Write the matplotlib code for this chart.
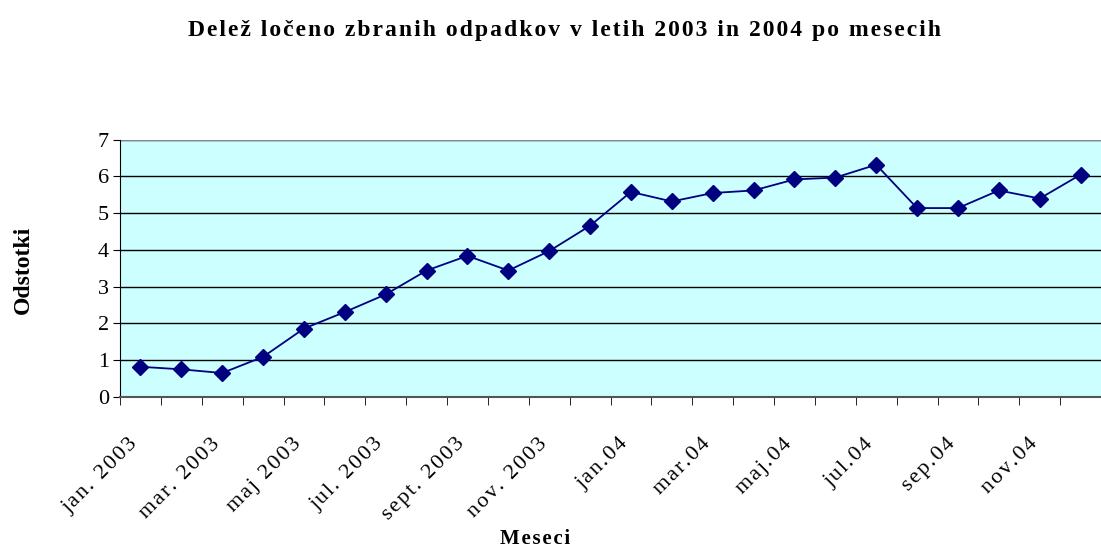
import numpy as np
import matplotlib
matplotlib.use("Agg")
import matplotlib.pyplot as plt
from matplotlib.transforms import ScaledTranslation

# monthly share of separately collected waste, jan 2003 - dec 2004
months = ["jan. 2003", "feb. 2003", "mar. 2003", "apr. 2003", "maj 2003", "jun. 2003",
          "jul. 2003", "avg. 2003", "sept. 2003", "okt. 2003", "nov. 2003", "dec. 2003",
          "jan.04", "feb.04", "mar.04", "apr.04", "maj.04", "jun.04",
          "jul.04", "avg.04", "sep.04", "okt.04", "nov.04", "dec.04"]
share = [0.82, 0.75, 0.65, 1.09, 1.86, 2.31, 2.79, 3.44, 3.84, 3.44, 3.97, 4.66,
         5.58, 5.32, 5.55, 5.62, 5.92, 5.97, 6.32, 5.14, 5.14, 5.62, 5.40, 6.05]
yticks = [0, 1, 2, 3, 4, 5, 6, 7]

plt.rcParams['font.family'] = ['Liberation Serif', 'DejaVu Serif']


def spaced(s, sep='\u200a'):
    # old Excel charts draw text with wide letter spacing
    return sep.join(s)


fig = plt.figure(figsize=(11.01, 5.59), dpi=100)
ax = fig.add_axes([0.109, 0.29, 0.891, 0.46])
ax.set_facecolor('#CCFFFF')

x = np.arange(len(months))
ax.plot(x, share, '-', color='#000080', lw=1.3, marker='D', ms=8,
        markerfacecolor='#000080', markeredgecolor='#000080', zorder=3)

ax.set_xlim(-0.5, len(months) - 0.5)
ax.set_ylim(0, 7)
ax.set_yticks(yticks)
ax.yaxis.grid(True, color='black', lw=1)
ax.set_axisbelow(True)

# category labels every second month, tick marks at category boundaries
ax.set_xticks(x[::2])
ax.set_xticklabels([spaced(m) for m in months[::2]], rotation=45, ha='right',
                   rotation_mode='anchor', fontsize=16)
ax.set_xticks(np.arange(-0.5, len(months), 1), minor=True)
ax.tick_params(axis='x', which='major', length=0, pad=27)
ax.tick_params(axis='x', which='minor', length=6, direction='out', color='black')
ax.tick_params(axis='y', length=5, direction='out', labelsize=16, pad=3)
shift = ScaledTranslation(-12 / 100, 0, fig.dpi_scale_trans)
for lab in ax.get_xticklabels():
    lab.set_transform(lab.get_transform() + shift)

for s in ['top', 'right']:
    ax.spines[s].set_visible(False)
ax.spines['left'].set_color('black')
ax.spines['bottom'].set_color('#555555')
ax.spines['bottom'].set_linewidth(1.5)
ax.axhline(7, color='#888888', lw=1.5)

fig.text(0.513, 0.945, spaced('Delež ločeno zbranih odpadkov v letih 2003 in 2004 po mesecih'),
         ha='center', va='center', fontsize=17, fontweight='bold')
fig.text(0.021, 0.517, 'Odstotki', rotation=90, ha='center', va='center',
         fontsize=17, fontweight='bold')
fig.text(0.486, 0.035, spaced('Meseci'), ha='center', va='center',
         fontsize=15, fontweight='bold')

fig.savefig('out.png', dpi=100)
